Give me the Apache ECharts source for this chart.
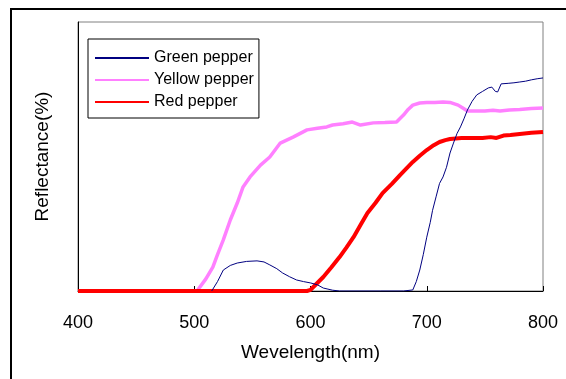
<!DOCTYPE html>
<html>
<head>
<meta charset="utf-8">
<script src="https://cdn.jsdelivr.net/npm/echarts@6/dist/echarts.min.js"></script>
<style>
  html, body { margin: 0; padding: 0; background: #fff; }
  #chart { width: 566px; height: 379px; }
</style>
</head>
<body>
<div id="chart"></div>
<script>
// x tick labels (nm)
const xTicks = [400, 500, 600, 700, 800];

// Green pepper
const greenWl = [515, 520, 525, 531, 537, 545, 554, 560, 565, 571, 576, 582, 588, 594, 600, 606, 611, 615, 619, 625, 640, 660, 680, 688, 691, 694, 697, 700, 703, 705, 708, 711, 714, 717, 720, 723, 726, 729, 732, 735, 739, 743, 748, 753, 756, 759, 761, 764, 770, 775, 780, 785, 790, 795, 800];
const greenVal = [0, 3.5, 7.8, 9.5, 10.4, 11, 11.2, 10.8, 9.7, 8.3, 6.7, 5.3, 4.1, 3.5, 3, 2.3, 1.1, 0.7, 0.3, 0, 0, 0, 0, 0.4, 3.5, 7.8, 13.5, 20, 25.5, 30, 35, 40, 42.4, 46, 51.3, 55, 58.5, 61, 64, 67.3, 70.5, 72.9, 74.2, 75.5, 75.8, 74.2, 74, 77, 77.2, 77.4, 77.7, 78, 78.5, 78.9, 79.2];

// Yellow pepper
const yellowWl = [503, 510, 516, 520, 525, 531, 537, 542, 548, 557, 565, 574, 585, 597, 606, 614, 619, 628, 636, 643, 654, 664, 674, 680, 684, 688, 694, 700, 707, 714, 720, 727, 731, 735, 742, 750, 757, 763, 771, 780, 790, 800];
const yellowVal = [0.4, 4.5, 8.9, 13.5, 19, 26.4, 32.7, 38.7, 42.4, 46.8, 49.8, 55, 57.2, 59.9, 60.5, 61, 61.7, 62.2, 62.8, 61.7, 62.5, 62.6, 62.8, 65.4, 67.5, 69.1, 69.9, 70.1, 70.1, 70.3, 70.1, 69.1, 68, 66.9, 66.9, 66.9, 67.2, 66.9, 67.3, 67.5, 67.8, 68];

// Red pepper
const redWl = [400, 450, 500, 550, 597, 600, 605, 611, 618, 625, 631, 637, 643, 649, 656, 662, 670, 677, 683, 688, 694, 700, 706, 711, 716, 720, 730, 740, 748, 755, 760, 766, 772, 780, 790, 800];
const redVal = [0, 0, 0, 0, 0, 0.4, 2.6, 5.2, 8.8, 12.6, 16.2, 20, 24.5, 29, 32.8, 36.4, 39.8, 43.1, 45.8, 48, 50.3, 52.4, 54.2, 55.4, 56.1, 56.5, 56.9, 56.9, 56.9, 57.2, 56.9, 57.8, 58, 58.4, 58.8, 59.1];

const zip = (xs, ys) => xs.map((x, i) => [x, ys[i]]);

const font = 'Liberation Sans, Arial, sans-serif';

const chart = echarts.init(document.getElementById('chart'), null, { renderer: 'canvas' });

chart.setOption({
  animation: false,
  backgroundColor: '#fff',
  grid: {
    left: 78,
    right: 23,
    top: 22,
    bottom: 88,
    show: true,
    borderColor: '#808080',
    borderWidth: 1,
  },
  legend: {
    orient: 'vertical',
    left: 88,
    top: 39,
    padding: [11, 5, 8, 6],
    itemWidth: 54,
    itemHeight: 14,
    itemGap: 6,
    borderColor: '#000',
    borderWidth: 1,
    backgroundColor: '#fff',
    itemStyle: { opacity: 0 },
    textStyle: { fontFamily: font, fontSize: 16, color: '#000' },
    data: ['Green pepper', 'Yellow pepper', 'Red pepper'],
  },
  xAxis: {
    type: 'value',
    min: 400,
    max: 800,
    interval: 100,
    name: 'Wevelength(nm)',
    nameLocation: 'middle',
    nameGap: 52,
    nameTextStyle: { fontFamily: font, fontSize: 19, color: '#000' },
    axisLine: { show: true, onZero: false, lineStyle: { color: '#000', width: 1 } },
    axisTick: { show: true, inside: true, length: 5, lineStyle: { color: '#000' } },
    axisLabel: {
      margin: 23,
      fontFamily: font,
      fontSize: 18,
      color: '#000',
      customValues: xTicks,
    },
    splitLine: { show: false },
  },
  yAxis: {
    type: 'value',
    min: 0,
    max: 100,
    name: 'Reflectance(%)',
    nameLocation: 'middle',
    nameGap: 26,
    nameTextStyle: { fontFamily: font, fontSize: 19, color: '#000' },
    axisLine: { show: true, lineStyle: { color: '#000', width: 1 } },
    axisTick: { show: false },
    axisLabel: { show: false },
    splitLine: { show: false },
  },
  graphic: [{
    type: 'rect',
    shape: { x: 11, y: 9, width: 600, height: 420 },
    style: { fill: 'none', stroke: '#000', lineWidth: 2 },
    silent: true,
    z: 100,
  }],
  series: [
    {
      name: 'Yellow pepper',
      type: 'line',
      symbol: 'none',
      color: '#FF80FF',
      lineStyle: { width: 3.5, color: '#FF80FF' },
      data: zip(yellowWl, yellowVal),
      z: 2,
    },
    {
      name: 'Red pepper',
      type: 'line',
      symbol: 'none',
      color: '#FF0000',
      lineStyle: { width: 4, color: '#FF0000' },
      data: zip(redWl, redVal),
      z: 3,
    },
    {
      name: 'Green pepper',
      type: 'line',
      symbol: 'none',
      color: '#000080',
      lineStyle: { width: 1, color: '#000080' },
      data: zip(greenWl, greenVal),
      z: 4,
    },
  ],
});
</script>
</body>
</html>
